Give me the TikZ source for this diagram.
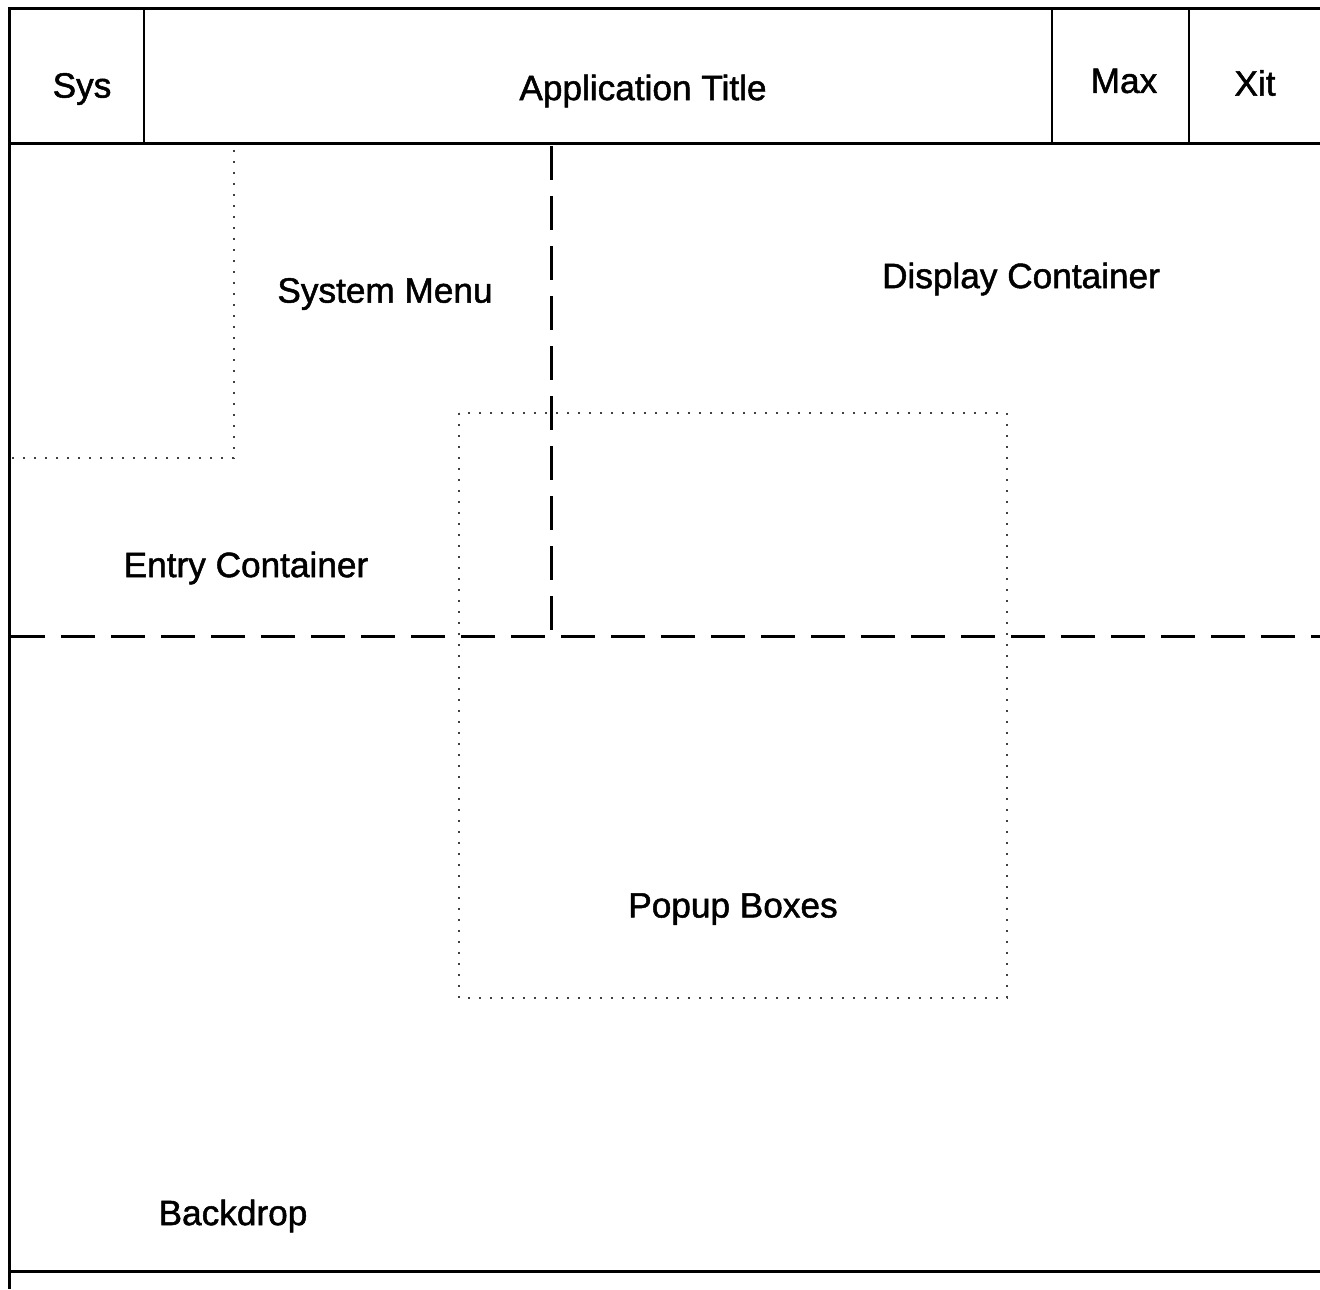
\documentclass[tikz,border=0pt]{standalone}
\usepackage{fontspec}
\setmainfont{Liberation Sans}
\newfontfamily\lblfont[BoldFont={Liberation Sans},BoldFeatures={FakeBold=1.4}]{Liberation Sans}
\begin{document}
\begin{tikzpicture}[x=0.5pt,y=-0.5pt,
  frame/.style={line width=1.5pt,black},
  thin/.style={line width=1.1pt,black},
  dashline/.style={line width=1.5pt,black,dash pattern=on 17pt off 8pt},
  dotline/.style={line width=0.9pt,black!75,dash pattern=on 0.9pt off 4.6pt},
  lbl/.style={font=\lblfont\bfseries\fontsize{17.6}{20}\selectfont,inner sep=0pt}]
\useasboundingbox (0,0) rectangle (1320,1289);
\fill[white] (0,0) rectangle (1320,1289);
% outer frame
\draw[frame] (1320,9) -- (9,9) -- (9,1289);
\draw[frame] (9,1271) -- (1320,1271);
% title bar
\draw[frame] (9,144) -- (1320,144);
\draw[thin] (144,9) -- (144,144);
\draw[thin] (1052,9) -- (1052,144);
\draw[thin] (1189,9) -- (1189,144);
% system menu (dotted)
\draw[dotline] (234,150) -- (234,458) -- (12,458);
% display / entry containers (dashed)
\draw[dashline] (551,146) -- (551,636);
\draw[dashline] (11,636) -- (1320,636);
% popup boxes (dotted)
\draw[dotline] (459,413) rectangle (1007,998);
% labels
\node[lbl] (sys) at (82,89) {Sys};
\node[lbl] (title) at (643,91) {Application Title};
\node[lbl] (max) at (1124,81) {Max};
\node[lbl] (xit) at (1255,83) {Xit};
\node[lbl] (sysmenu) at (385,294) {System Menu};
\node[lbl] (display) at (1021,279) {Display Container};
\node[lbl] (entry) at (246,568) {Entry Container};
\node[lbl] (popup) at (733,909) {Popup Boxes};
\node[lbl] (backdrop) at (233,1216) {Backdrop};
\end{tikzpicture}
\end{document}
